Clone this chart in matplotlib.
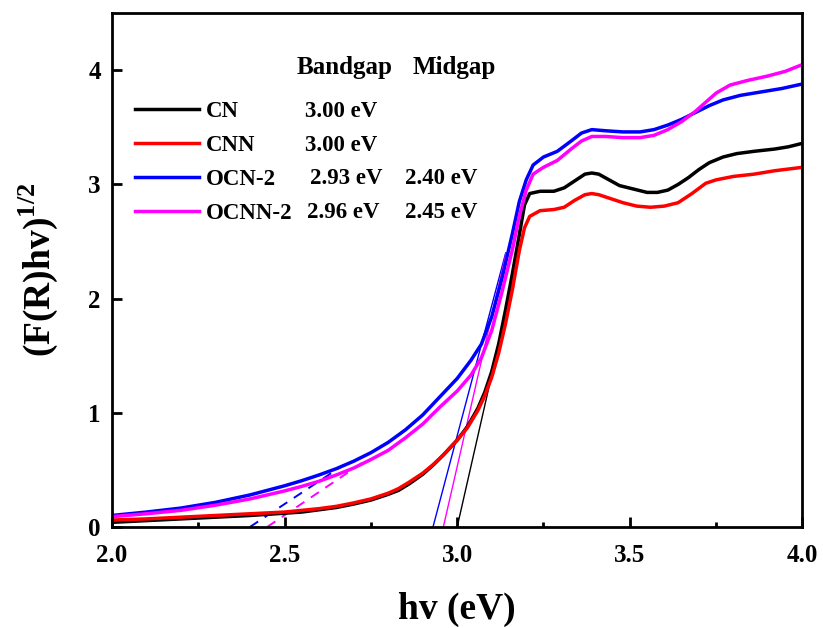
import numpy as np
import matplotlib
matplotlib.use("Agg")
import matplotlib.pyplot as plt
from matplotlib.ticker import MultipleLocator

plt.rcParams['font.family'] = ['Liberation Serif', 'DejaVu Serif']
plt.rcParams['font.weight'] = 'bold'
plt.rcParams['axes.labelweight'] = 'bold'
plt.rcParams['mathtext.fontset'] = 'custom'
plt.rcParams['mathtext.rm'] = 'Liberation Serif:bold'
plt.rcParams['mathtext.bf'] = 'Liberation Serif:bold'

# ---- Tauc curves, (F(R)hv)^1/2 vs photon energy ----
cn_x = [2.00, 2.10, 2.20, 2.30, 2.40, 2.50, 2.55, 2.60, 2.65, 2.70, 2.75, 2.80, 2.83,
        2.86, 2.90, 2.93, 2.96, 3.00, 3.03, 3.06, 3.08, 3.10, 3.12, 3.14, 3.16, 3.18,
        3.195, 3.21, 3.24, 3.28, 3.31, 3.34, 3.37, 3.39, 3.41, 3.44, 3.47, 3.51, 3.55,
        3.58, 3.61, 3.64, 3.67, 3.70, 3.73, 3.77, 3.81, 3.86, 3.92, 3.96, 4.00]
cn_y = [0.04, 0.055, 0.07, 0.085, 0.10, 0.12, 0.13, 0.15, 0.17, 0.20, 0.235, 0.285, 0.32,
        0.375, 0.46, 0.54, 0.63, 0.76, 0.88, 1.04, 1.18, 1.36, 1.60, 1.90, 2.22, 2.56,
        2.82, 2.92, 2.94, 2.94, 2.97, 3.03, 3.09, 3.10, 3.09, 3.04, 2.99, 2.96, 2.93,
        2.93, 2.95, 3.00, 3.06, 3.13, 3.19, 3.24, 3.27, 3.29, 3.31, 3.33, 3.36]

cnn_x = [2.00, 2.10, 2.20, 2.30, 2.40, 2.50, 2.55, 2.60, 2.65, 2.70, 2.75, 2.80, 2.83,
         2.86, 2.90, 2.93, 2.96, 3.00, 3.03, 3.06, 3.08, 3.10, 3.12, 3.14, 3.16, 3.18,
         3.195, 3.21, 3.24, 3.28, 3.31, 3.34, 3.37, 3.39, 3.41, 3.44, 3.48, 3.52, 3.56,
         3.60, 3.64, 3.68, 3.72, 3.75, 3.80, 3.86, 3.92, 4.00]
cnn_y = [0.06, 0.07, 0.085, 0.10, 0.115, 0.13, 0.145, 0.16, 0.18, 0.21, 0.245, 0.295, 0.335,
         0.39, 0.47, 0.545, 0.63, 0.76, 0.87, 1.02, 1.15, 1.31, 1.52, 1.78, 2.08, 2.42,
         2.62, 2.72, 2.77, 2.78, 2.80, 2.86, 2.91, 2.92, 2.91, 2.88, 2.84, 2.81, 2.80,
         2.81, 2.84, 2.92, 3.01, 3.04, 3.07, 3.09, 3.12, 3.15]

ocn_x = [2.00, 2.10, 2.20, 2.30, 2.40, 2.50, 2.55, 2.60, 2.65, 2.70, 2.75, 2.80, 2.85,
         2.90, 2.95, 3.00, 3.04, 3.07, 3.10, 3.13, 3.16, 3.18, 3.20, 3.22, 3.25, 3.29,
         3.33, 3.36, 3.39, 3.43, 3.48, 3.53, 3.57, 3.61, 3.65, 3.69, 3.73, 3.77, 3.82,
         3.88, 3.94, 4.00]
ocn_y = [0.10, 0.13, 0.165, 0.215, 0.28, 0.36, 0.405, 0.455, 0.51, 0.575, 0.65, 0.74, 0.85,
         0.98, 1.14, 1.30, 1.46, 1.60, 1.84, 2.18, 2.57, 2.85, 3.04, 3.17, 3.24, 3.29,
         3.38, 3.45, 3.48, 3.47, 3.46, 3.46, 3.48, 3.52, 3.57, 3.63, 3.69, 3.74, 3.78,
         3.81, 3.84, 3.88]

ocnn_x = [2.00, 2.10, 2.20, 2.30, 2.40, 2.50, 2.55, 2.60, 2.65, 2.70, 2.75, 2.80, 2.85,
          2.90, 2.95, 3.00, 3.04, 3.07, 3.10, 3.13, 3.16, 3.18, 3.20, 3.22, 3.25, 3.29,
          3.33, 3.36, 3.39, 3.43, 3.48, 3.53, 3.57, 3.61, 3.65, 3.69, 3.72, 3.75, 3.79,
          3.84, 3.90, 3.95, 4.00]
ocnn_y = [0.09, 0.115, 0.145, 0.19, 0.245, 0.315, 0.355, 0.40, 0.455, 0.515, 0.59, 0.67, 0.78,
          0.90, 1.05, 1.19, 1.33, 1.48, 1.72, 2.06, 2.43, 2.72, 2.95, 3.09, 3.15, 3.21,
          3.31, 3.38, 3.42, 3.42, 3.41, 3.41, 3.43, 3.48, 3.55, 3.64, 3.72, 3.80, 3.87,
          3.91, 3.95, 3.99, 4.05]

names = ["CN", "CNN", "OCN-2", "OCNN-2"]
colors = ["#000000", "#ff0000", "#0000ff", "#ff00ff"]
curves = [(cn_x, cn_y), (cnn_x, cnn_y), (ocn_x, ocn_y), (ocnn_x, ocnn_y)]

# band-edge tangents (x-intercept = bandgap) and sub-gap tangents (x-intercept = midgap)
bandgap = [3.00, 3.00, 2.93, 2.96]
bandgap_slope = [13.3, None, 11.4, 13.2]
tangent_top = 2.4
midgap = [None, None, 2.40, 2.45]
midgap_slope = [None, None, 2.0, 2.04]
midgap_top = [None, None, 0.54, 0.56]

bandgap_txt = ["3.00 eV", "3.00 eV", "2.93 eV", "2.96 eV"]
midgap_txt = ["", "", "2.40 eV", "2.45 eV"]

fig = plt.figure(figsize=(8.23, 6.28), dpi=100)
ax = fig.add_axes([0.136, 0.161, 0.839, 0.818])

for eg, k, c in zip(bandgap, bandgap_slope, colors):
    if k is None:
        continue
    ax.plot([eg, eg + tangent_top / k], [0, tangent_top], color=c, lw=1.0, zorder=1)

for em, k, top, c in zip(midgap, midgap_slope, midgap_top, colors):
    if em is None:
        continue
    ax.plot([em, em + top / k], [0, top], color=c, lw=1.4, ls=(0, (5, 4)), zorder=1)

for (x, y), name, c in zip(curves, names, colors):
    ax.plot(x, y, color=c, lw=2.5, label=name, solid_joinstyle='round', zorder=2)

ax.set_xlim(2.0, 4.0)
ax.set_ylim(0, 4.5)
ax.xaxis.set_major_locator(MultipleLocator(0.5))
ax.xaxis.set_minor_locator(MultipleLocator(0.25))
ax.yaxis.set_major_locator(MultipleLocator(1))
ax.xaxis.set_major_formatter(plt.FormatStrFormatter('%.1f'))
ax.yaxis.set_major_formatter(plt.FormatStrFormatter('%d'))

ax.tick_params(which='both', direction='in', top=False, right=False, width=2, labelsize=18)
ax.tick_params(which='major', length=7)
ax.tick_params(which='minor', length=3.5)
ax.tick_params(axis='x', pad=12)
ax.tick_params(axis='y', pad=8)
for s in ax.spines.values():
    s.set_linewidth(2)

ax.set_xlabel("hv (eV)", fontsize=27, labelpad=18)
ax.set_ylabel(r"(F(R)hv)$^{1/2}$", fontsize=27, labelpad=20)

leg = ax.legend(loc='center left', bbox_to_anchor=(0.033, 0.71), frameon=False,
                fontsize=16.5, handlelength=2.8, handletextpad=0.3,
                labelspacing=0.57, borderpad=0, borderaxespad=0)
for t in leg.get_texts():
    t.set_fontweight('bold')

row_y = [3.64, 3.345, 3.05, 2.75]
gap_x = [2.559, 2.559, 2.574, 2.565]
ax.text(2.536, 4.02, "Bandgap", fontsize=18, va='center', ha='left')
ax.text(2.870, 4.02, "Midgap", fontsize=18, va='center', ha='left')
for yy, gx, bt, mt in zip(row_y, gap_x, bandgap_txt, midgap_txt):
    ax.text(gx, yy, bt, fontsize=16.5, va='center', ha='left')
    if mt:
        ax.text(2.849, yy, mt, fontsize=16.5, va='center', ha='left')

fig.savefig("out.png", dpi=100)
